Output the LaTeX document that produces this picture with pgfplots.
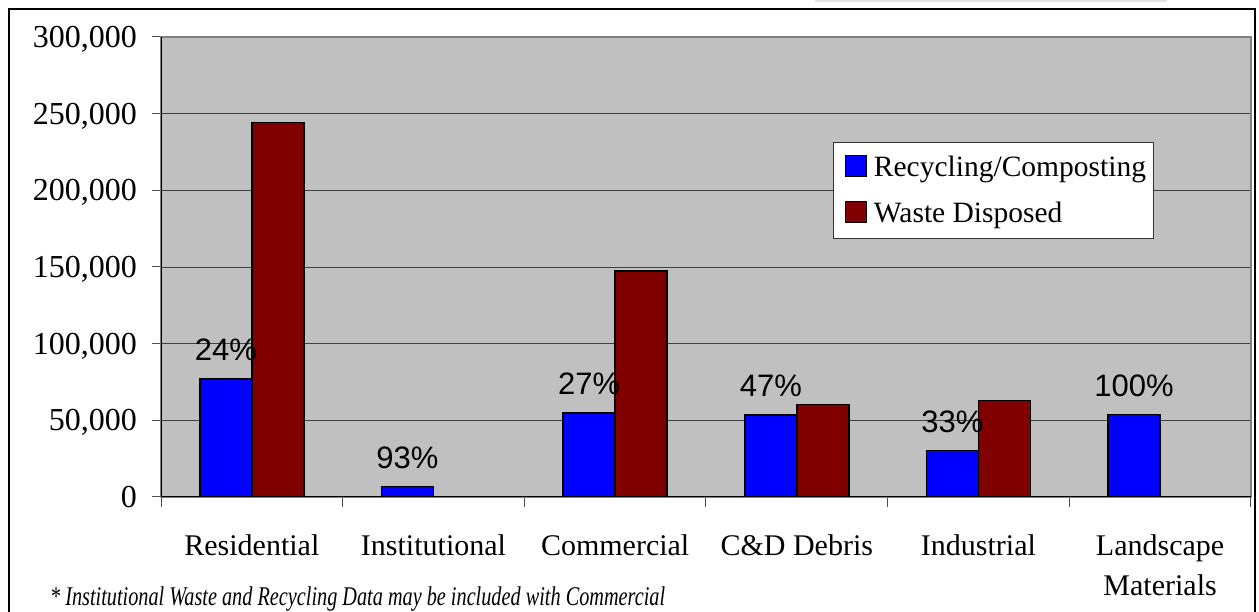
\documentclass[border=0pt]{standalone}
\usepackage{fontspec}
\setmainfont{Liberation Serif}
\newfontfamily\arialfont{Liberation Sans}
\usepackage{pgfplots}
\pgfplotsset{compat=1.18}
\definecolor{plotbg}{RGB}{192,192,192}
\definecolor{recblue}{RGB}{0,0,255}
\definecolor{wastered}{RGB}{128,0,0}
\definecolor{frameg}{RGB}{128,128,128}
\definecolor{topline}{RGB}{225,225,225}
\begin{document}
\begin{tikzpicture}[x=1pt,y=1pt]
\useasboundingbox (0,0) rectangle (1259,612);
\draw[line width=1.5pt] (9,-10) -- (9,603) -- (1255,603) -- (1255,-10);
\draw[topline, line width=2pt] (815,611) -- (1167,611);
\begin{axis}[
  at={(161pt,115pt)}, anchor=south west,
  scale only axis, width=1090pt, height=460pt,
  ybar, bar width=52pt,
  xmin=-0.5, xmax=5.5, ymin=0, ymax=300000,
  xtick={0,1,2,3,4,5},
  xticklabels={Residential, Institutional, Commercial, C\&D Debris, Industrial, {Landscape\\Materials}},
  minor xtick={-0.5,0.5,1.5,2.5,3.5,4.5,5.5},
  ytick={0,50000,100000,150000,200000,250000,300000},
  xtick pos=bottom, ytick pos=left,
  scaled ticks=false,
  /pgf/number format/.cd, fixed, 1000 sep={,}, assume math mode=true, /pgfplots/.cd,
  tick align=outside,
  major tick length=9pt, minor tick length=10pt,
  major x tick style={draw=none},
  minor x tick style={draw=black!70, line width=1pt},
  major y tick style={draw=black!70, line width=1pt},
  ymajorgrids,
  grid style={draw=black!75, line width=0.8pt},
  axis background/.style={fill=plotbg},
  axis line style={draw=frameg, line width=1.5pt},
  yticklabel style={font=\fontsize{32}{36}\selectfont, text depth=0pt, inner sep=0pt, xshift=-15pt},
  xticklabel style={font=\fontsize{30}{40}\selectfont, align=center, inner sep=0pt, yshift=-28pt},
  legend style={at={(0.6165,0.7717)}, anchor=north west, draw=black!80, line width=1pt, fill=white,
    font=\fontsize{29.5}{31}\selectfont, row sep=20pt, inner xsep=6pt, inner ysep=12pt},
  legend cell align=left,
  legend image code/.code={\path (0pt,0pt); \draw[#1, line width=1.2pt] (5pt,-9pt) rectangle (26pt,12pt); \path (31pt,0pt);},
]
\addplot[fill=recblue, draw=black, line width=1.5pt, bar shift=-26pt]
  coordinates {(0,77000) (1,6700) (2,54800) (3,53500) (4,30200) (5,53700)};
\addlegendentry{Recycling/Composting}
\addplot[fill=wastered, draw=black, line width=1.5pt, bar shift=26pt]
  coordinates {(0,244100) (2,147400) (3,60200) (4,62800)};
\addlegendentry{Waste Disposed}
\addplot[draw=none, fill=none, bar shift=-26pt, forget plot,
  point meta=explicit symbolic, nodes near coords,
  nodes near coords style={font=\arialfont\fontsize{31}{31}\selectfont, anchor=base, inner sep=0pt, yshift=18pt}]
  coordinates {(0,77000)[24\%] (1,6700)[93\%] (2,54800)[27\%] (3,53500)[47\%] (4,30200)[33\%] (5,53700)[100\%]};
\draw[black, line width=1.5pt] (rel axis cs:0,1) -- (rel axis cs:0,0) -- (rel axis cs:1,0);
\end{axis}
\node[anchor=base west, inner sep=0pt, xscale=0.75, transform shape, font=\itshape\fontsize{27}{27}\selectfont] at (50,6) {* Institutional Waste and Recycling Data may be included with Commercial};
\end{tikzpicture}
\end{document}
